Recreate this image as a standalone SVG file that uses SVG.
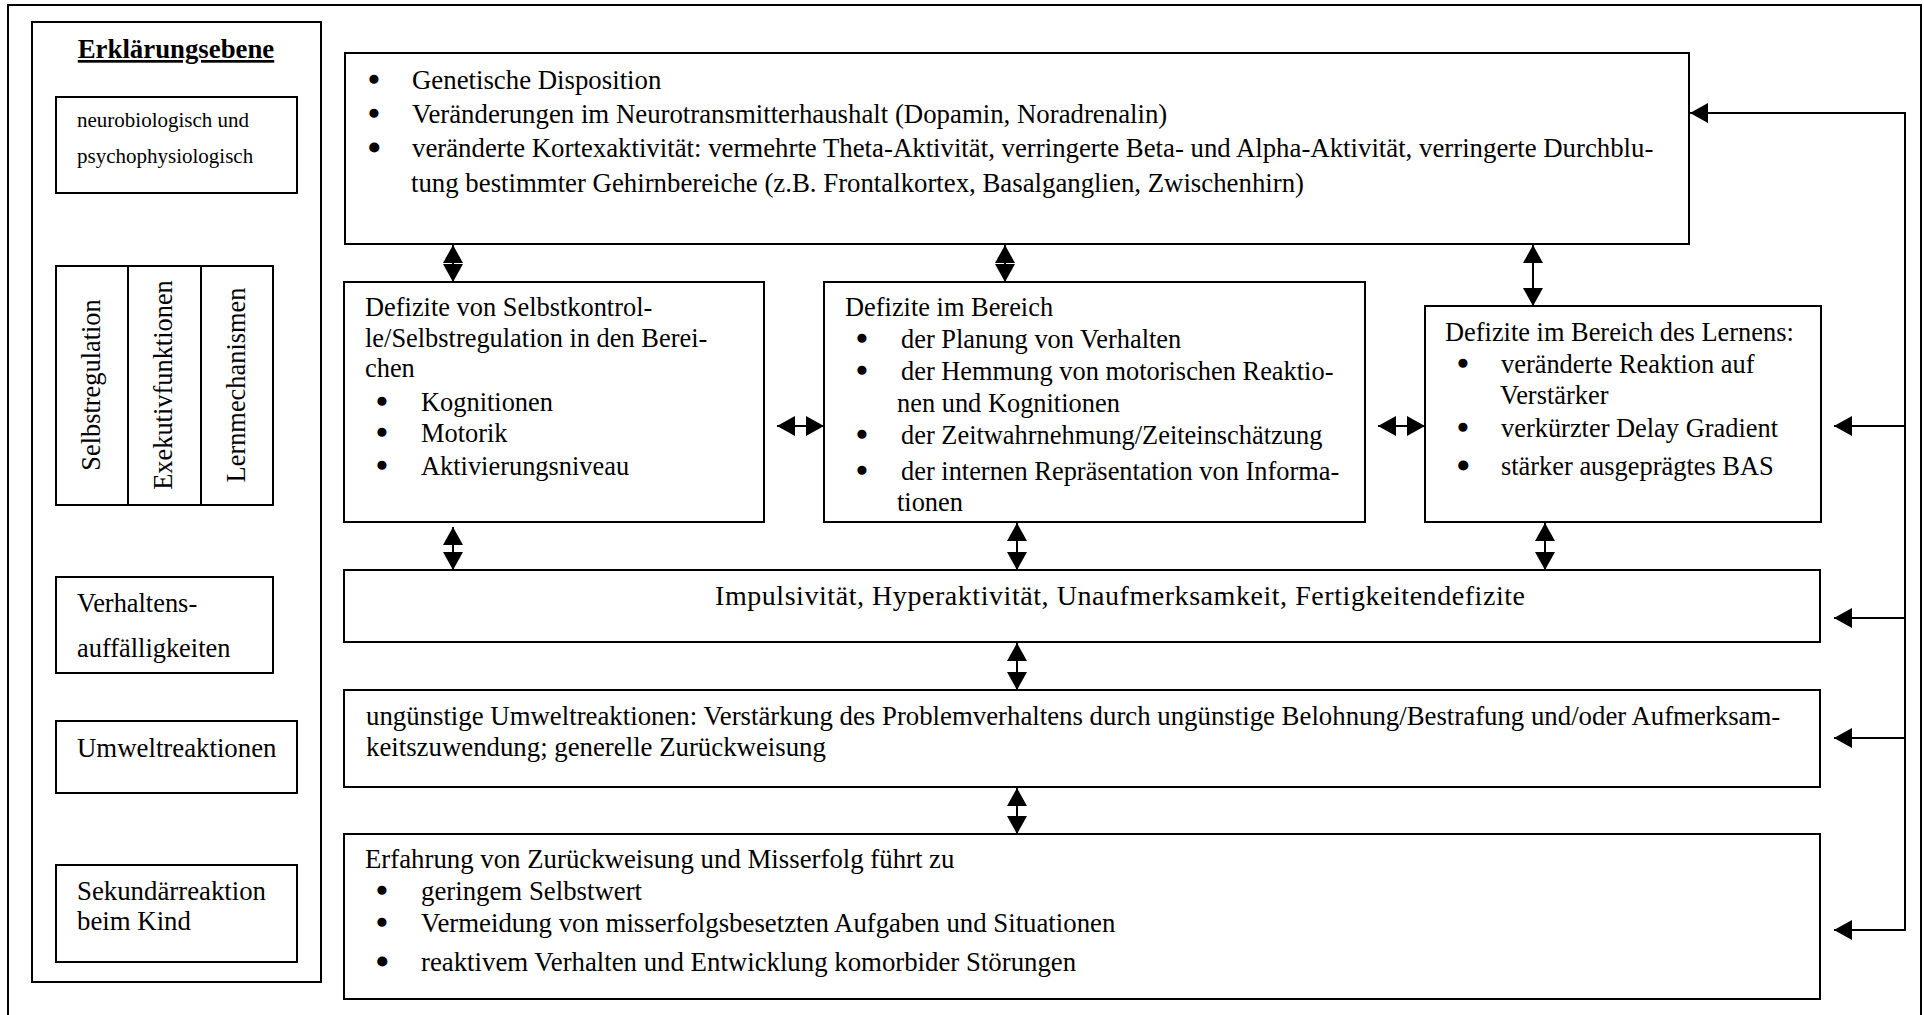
<svg xmlns="http://www.w3.org/2000/svg" width="1924" height="1015" viewBox="0 0 1924 1015">
<style>
.bg{fill:#fff}
.box{fill:#fff;stroke:#000;stroke-width:2}
.frame{fill:none;stroke:#000;stroke-width:2}
.t{font-family:"Liberation Serif","Times New Roman",serif;font-size:26.8px;fill:#000}
.m{font-size:26.4px}
.l{font-size:26.4px}
.s{font-size:21px}
.b{font-weight:bold;font-size:26.8px;text-decoration:underline}
.bl{font-size:28px;stroke:#000;stroke-width:2.4px}
.big{font-size:30px;stroke:#000;stroke-width:3px}
.imp{font-size:28px}
.conn{stroke:#000;stroke-width:2;fill:none}
</style>
<defs>
<marker id="ah" viewBox="0 0 18 20" refX="18" refY="10" markerWidth="18" markerHeight="20" markerUnits="userSpaceOnUse" orient="auto-start-reverse"><path d="M0,0 L18,10 L0,20 z" fill="#000"/></marker>
</defs>
<rect class="bg" x="0" y="0" width="1924" height="1015"/>
<rect class="frame" x="8" y="5" width="1913" height="1030"/>

<g id="legend">
<rect class="frame" x="32" y="22" width="289" height="960"/>
<text class="t b" x="176" y="58" text-anchor="middle">Erklärungsebene</text>
<g id="legend-neuro">
<rect class="box" x="56" y="97" width="241" height="96"/>
<text class="t s" x="77" y="127">neurobiologisch und</text>
<text class="t s" x="77" y="163">psychophysiologisch</text>
</g>
<g id="legend-mid">
<rect class="box" x="56" y="266" width="217" height="239"/>
<line class="conn" x1="128" y1="266" x2="128" y2="505"/>
<line class="conn" x1="201" y1="266" x2="201" y2="505"/>
<text class="t l" transform="translate(100,385) rotate(-90)" text-anchor="middle">Selbstregulation</text>
<text class="t l" transform="translate(172,385) rotate(-90)" text-anchor="middle">Exekutivfunktionen</text>
<text class="t l" transform="translate(245,385) rotate(-90)" text-anchor="middle">Lernmechanismen</text>
</g>
<g id="legend-verhalten">
<rect class="box" x="56" y="577" width="217" height="96"/>
<text class="t l" x="77" y="612">Verhaltens-</text>
<text class="t l" x="77" y="657">auffälligkeiten</text>
</g>
<g id="legend-umwelt">
<rect class="box" x="56" y="721" width="241" height="72"/>
<text class="t" x="77" y="757">Umweltreaktionen</text>
</g>
<g id="legend-sekundaer">
<rect class="box" x="56" y="865" width="241" height="97"/>
<text class="t" x="77" y="900">Sekundärreaktion</text>
<text class="t" x="77" y="930">beim Kind</text>
</g>
</g>

<g id="connectors">
<line class="conn" x1="453" y1="245" x2="453" y2="282" marker-start="url(#ah)" marker-end="url(#ah)"/>
<line class="conn" x1="1005" y1="245" x2="1005" y2="282" marker-start="url(#ah)" marker-end="url(#ah)"/>
<line class="conn" x1="1533" y1="245" x2="1533" y2="306" marker-start="url(#ah)" marker-end="url(#ah)"/>
<line class="conn" x1="777" y1="426" x2="824" y2="426" marker-start="url(#ah)" marker-end="url(#ah)"/>
<line class="conn" x1="1378" y1="426" x2="1425" y2="426" marker-start="url(#ah)" marker-end="url(#ah)"/>
<line class="conn" x1="453" y1="527" x2="453" y2="570" marker-start="url(#ah)" marker-end="url(#ah)"/>
<line class="conn" x1="1017" y1="523" x2="1017" y2="570" marker-start="url(#ah)" marker-end="url(#ah)"/>
<line class="conn" x1="1545" y1="523" x2="1545" y2="570" marker-start="url(#ah)" marker-end="url(#ah)"/>
<line class="conn" x1="1017" y1="643" x2="1017" y2="690" marker-start="url(#ah)" marker-end="url(#ah)"/>
<line class="conn" x1="1017" y1="788" x2="1017" y2="834" marker-start="url(#ah)" marker-end="url(#ah)"/>
<path class="conn" d="M1834,930 H1905 V113 H1690" marker-start="url(#ah)" marker-end="url(#ah)"/>
<line class="conn" x1="1905" y1="426" x2="1834" y2="426" marker-end="url(#ah)"/>
<line class="conn" x1="1905" y1="618" x2="1834" y2="618" marker-end="url(#ah)"/>
<line class="conn" x1="1905" y1="738" x2="1834" y2="738" marker-end="url(#ah)"/>
</g>

<g id="node-neuro">
<rect class="box" x="345" y="53" width="1344" height="191"/>
<text class="t bl" x="369" y="89">•</text>
<text class="t" x="412" y="89">Genetische Disposition</text>
<text class="t bl" x="369" y="123">•</text>
<text class="t" x="412" y="123">Veränderungen im Neurotransmitterhaushalt (Dopamin, Noradrenalin)</text>
<text class="t big" x="369" y="158">•</text>
<text class="t" x="412" y="157">veränderte Kortexaktivität: vermehrte Theta-Aktivität, verringerte Beta- und Alpha-Aktivität, verringerte Durchblu-</text>
<text class="t" x="411" y="192">tung bestimmter Gehirnbereiche (z.B. Frontalkortex, Basalganglien, Zwischenhirn)</text>
</g>

<g id="node-selbstregulation">
<rect class="box" x="344" y="282" width="420" height="240"/>
<text class="t m" x="365" y="316">Defizite von Selbstkontrol-</text>
<text class="t m" x="365" y="347">le/Selbstregulation in den Berei-</text>
<text class="t m" x="365" y="377">chen</text>
<text class="t bl" x="377" y="411">•</text>
<text class="t m" x="421" y="411">Kognitionen</text>
<text class="t bl" x="377" y="442">•</text>
<text class="t m" x="421" y="442">Motorik</text>
<text class="t bl" x="377" y="475">•</text>
<text class="t m" x="421" y="475">Aktivierungsniveau</text>
</g>

<g id="node-exekutiv">
<rect class="box" x="824" y="282" width="541" height="240"/>
<text class="t m" x="845" y="316">Defizite im Bereich</text>
<text class="t bl" x="857" y="348">•</text>
<text class="t m" x="901" y="348">der Planung von Verhalten</text>
<text class="t bl" x="857" y="380">•</text>
<text class="t m" x="901" y="380">der Hemmung von motorischen Reaktio-</text>
<text class="t m" x="897" y="412">nen und Kognitionen</text>
<text class="t bl" x="857" y="444">•</text>
<text class="t m" x="901" y="444">der Zeitwahrnehmung/Zeiteinschätzung</text>
<text class="t bl" x="857" y="480">•</text>
<text class="t m" x="901" y="480">der internen Repräsentation von Informa-</text>
<text class="t m" x="897" y="511">tionen</text>
</g>

<g id="node-lernen">
<rect class="box" x="1425" y="306" width="396" height="216"/>
<text class="t m" x="1445" y="341">Defizite im Bereich des Lernens:</text>
<text class="t bl" x="1458" y="373">•</text>
<text class="t m" x="1501" y="373">veränderte Reaktion auf</text>
<text class="t m" x="1500" y="404">Verstärker</text>
<text class="t bl" x="1458" y="437">•</text>
<text class="t m" x="1501" y="437">verkürzter Delay Gradient</text>
<text class="t big" x="1458" y="476">•</text>
<text class="t m" x="1501" y="475">stärker ausgeprägtes BAS</text>
</g>

<g id="node-verhalten">
<rect class="box" x="344" y="570" width="1476" height="72"/>
<text class="t imp" x="715" y="605" textLength="810" lengthAdjust="spacing">Impulsivität, Hyperaktivität, Unaufmerksamkeit, Fertigkeitendefizite</text>
</g>

<g id="node-umwelt">
<rect class="box" x="344" y="690" width="1476" height="97"/>
<text class="t" x="366" y="725">ungünstige Umweltreaktionen: Verstärkung des Problemverhaltens durch ungünstige Belohnung/Bestrafung und/oder Aufmerksam-</text>
<text class="t" x="366" y="756">keitszuwendung; generelle Zurückweisung</text>
</g>

<g id="node-sekundaer">
<rect class="box" x="344" y="834" width="1476" height="165"/>
<text class="t" x="365" y="868">Erfahrung von Zurückweisung und Misserfolg führt zu</text>
<text class="t bl" x="377" y="900">•</text>
<text class="t" x="421" y="900">geringem Selbstwert</text>
<text class="t bl" x="377" y="932">•</text>
<text class="t" x="421" y="932">Vermeidung von misserfolgsbesetzten Aufgaben und Situationen</text>
<text class="t big" x="377" y="972">•</text>
<text class="t" x="421" y="971">reaktivem Verhalten und Entwicklung komorbider Störungen</text>
</g>
</svg>
